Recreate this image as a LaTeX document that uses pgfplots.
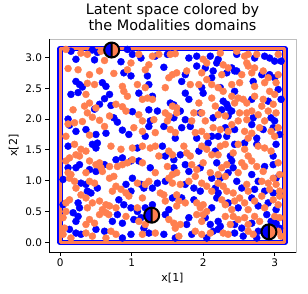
\documentclass[border=0pt]{standalone}
\usepackage{pgfplots}
\pgfplotsset{compat=1.18}
\usepackage{fontspec}
\setmainfont{DejaVu Sans}
\definecolor{coral}{RGB}{255,127,80}
\definecolor{mblue}{RGB}{0,0,255}
\pgfdeclareplotmark{halfcirc}{%
  \pgfpathmoveto{\pgfpoint{0pt}{\pgfplotmarksize}}%
  \pgfpatharc{90}{270}{\pgfplotmarksize}%
  \pgfpathclose
  \pgfsetfillcolor{mblue}\pgfusepath{fill}%
  \pgfpathmoveto{\pgfpoint{0pt}{-\pgfplotmarksize}}%
  \pgfpatharc{-90}{90}{\pgfplotmarksize}%
  \pgfpathclose
  \pgfsetfillcolor{coral}\pgfusepath{fill}%
  \pgfpathcircle{\pgfpointorigin}{\pgfplotmarksize}%
  \pgfpathmoveto{\pgfpoint{0pt}{-\pgfplotmarksize}}%
  \pgfpathlineto{\pgfpoint{0pt}{\pgfplotmarksize}}%
  \pgfsetstrokecolor{black}\pgfusepath{stroke}%
}
\begin{document}
\begin{tikzpicture}
\begin{axis}[
  name=ax,
  scale only axis, width=247bp, height=213bp,
  xmin=-0.157, xmax=3.299, ymin=-0.157, ymax=3.299,
  xtick={0,1,2,3}, ytick={0,0.5,1,1.5,2,2.5,3},
  yticklabel style={/pgf/number format/.cd, fixed, fixed zerofill, precision=1},
  /pgf/number format/assume math mode=true,
  tick label style={font=\fontsize{10.5}{12}\selectfont, black},
  tick pos=left, tick align=outside,
  major tick length=3.5bp,
  tick style={black, line width=0.8bp},
  xlabel={x[1]}, ylabel={x[2]},
  label style={font=\fontsize{11}{13}\selectfont},
  xlabel style={yshift=1bp},
  title={Latent space colored by\\the Modalities domains},
  title style={font=\fontsize{14.5}{16.5}\selectfont, align=center, at={(0.5,1)}, anchor=south, yshift=0bp, inner sep=2bp},
  axis line style={draw=black!25, line width=0.8bp},
]
\addplot[only marks, mark=*, mark size=3.5bp, mblue, mark options={draw=mblue, fill=mblue}] coordinates {
(0.15,3.10) (0.45,3.12) (0.52,3.08) (0.94,3.13) (1.01,3.05) (0.22,2.97) (0.48,2.96) (0.85,2.93) (0.89,2.75) (0.99,2.70) (0.27,2.56) (0.31,2.52) (0.59,2.59) (0.64,2.53) (0.22,2.61) (0.15,2.40) (0.25,2.43) (0.69,2.40) (0.62,2.33) (0.71,2.22) (0.48,2.16) (0.55,2.24) (1.01,2.12) (0.11,2.00) (0.13,1.90) (0.80,1.95) (0.75,2.02) (0.22,1.80) (0.36,1.83) (0.50,1.75) (0.64,1.77) (0.87,1.82) (0.96,1.75)
(1.13,2.99) (1.33,3.02) (1.50,3.05) (1.80,2.99) (1.91,3.02) (2.10,3.02) (1.45,2.84) (1.91,2.86) (2.03,2.83) (2.14,2.78) (1.22,2.70) (1.75,2.72) (2.12,2.67) (1.70,2.61) (1.24,2.56) (1.75,2.42) (1.98,2.51) (2.00,2.42) (1.10,2.42) (1.29,2.37) (1.54,2.26) (1.59,2.23) (1.80,2.32) (1.24,2.15) (1.96,2.10) (1.68,2.13) (1.36,2.13) (1.26,1.97) (1.75,1.99) (1.59,2.02) (2.14,2.02) (1.24,1.88) (1.45,1.88) (1.70,1.86) (1.82,1.88) (1.19,1.72) (1.61,1.69) (1.91,1.69) (2.12,1.72)
(2.21,2.97) (2.47,3.05) (2.72,2.99) (2.86,3.02) (2.93,2.99) (3.00,2.94) (3.09,2.94) (2.40,2.83) (2.44,2.78) (2.19,2.91) (2.33,2.75) (2.47,2.78) (2.82,2.72) (2.93,2.72) (3.00,2.67) (2.70,2.61) (3.05,2.48) (2.24,2.51) (2.44,2.45) (2.28,2.29) (2.33,2.24) (2.68,2.32) (2.91,2.29) (3.09,2.32) (2.35,2.18) (2.26,2.15) (2.40,2.13) (2.35,2.05) (2.70,2.02) (2.95,2.02) (3.00,1.97) (2.68,1.91) (2.31,1.86) (2.44,1.83) (2.84,1.83) (2.98,1.86) (3.07,1.75) (2.21,1.72) (2.33,1.72) (2.75,1.69)
(0.45,1.59) (0.50,1.53) (0.52,1.61) (0.11,1.56) (0.27,1.26) (0.22,1.21) (0.41,1.18) (0.50,1.15) (0.62,1.26) (0.78,1.34) (0.87,1.37) (0.99,1.32) (0.11,1.21) (0.29,0.96) (0.36,0.94) (0.38,0.83) (0.43,0.80) (0.52,0.88) (0.92,0.94) (0.99,0.83) (1.01,1.04) (0.04,1.02) (0.25,0.64) (0.04,0.61) (0.27,0.56) (0.82,0.69) (0.89,0.61) (0.99,0.56) (0.18,0.48) (0.25,0.42) (0.22,0.34) (0.80,0.45) (0.87,0.31) (0.73,0.34) (1.03,0.37) (0.13,0.21) (0.22,0.15) (0.29,0.13) (0.50,0.21) (0.62,0.18) (0.99,0.13) (0.87,0.07)
(1.08,1.53) (1.43,1.56) (1.47,1.40) (1.59,1.34) (1.68,1.42) (1.94,1.48) (2.07,1.61) (1.10,1.32) (1.26,1.21) (1.59,1.21) (1.61,1.13) (1.75,1.26) (1.80,1.15) (1.96,1.21) (2.12,1.04) (1.13,0.94) (1.17,0.88) (1.36,0.96) (1.47,0.99) (1.75,0.94) (1.87,0.88) (1.96,0.83) (1.29,0.88) (1.19,0.56) (1.29,0.61) (1.57,0.72) (1.70,0.72) (1.87,0.69) (1.52,0.53) (2.12,0.56) (1.08,0.50) (1.13,0.40) (1.47,0.45) (1.80,0.40) (2.03,0.40) (2.10,0.29) (1.17,0.23) (1.77,0.29) (1.24,0.15) (1.45,0.13) (1.61,0.07) (1.84,0.13) (2.05,0.07) (2.14,0.18)
(2.44,1.59) (2.58,1.61) (2.75,1.59) (2.98,1.40) (3.02,1.59) (2.17,1.48) (2.38,1.40) (2.19,1.29) (2.40,1.32) (2.42,1.21) (2.24,1.04) (2.35,1.13) (2.86,1.23) (2.98,1.26) (3.02,1.04) (2.68,1.10) (2.77,0.99) (2.17,0.88) (2.21,0.80) (2.47,0.99) (2.54,0.88) (2.72,0.86) (2.86,0.83) (2.98,0.80) (2.19,0.72) (2.35,0.64) (2.49,0.56) (2.68,0.72) (2.77,0.59) (2.91,0.64) (3.02,0.53) (2.21,0.34) (2.24,0.26) (2.44,0.29) (2.54,0.23) (2.68,0.31) (2.89,0.45) (2.95,0.34) (3.02,0.31) (2.21,0.21) (2.44,0.15) (2.77,0.18) (2.56,0.10) (3.07,0.23) (2.75,0.07)
};
\addplot[only marks, mark=*, mark size=3.5bp, coral, mark options={draw=coral, fill=coral}] coordinates {
(0.08,3.13) (0.29,3.07) (0.38,3.05) (0.57,3.10) (0.62,2.95) (0.99,2.91) (0.11,2.82) (0.25,2.80) (0.41,2.72) (0.55,2.78) (0.75,2.74) (0.94,2.80) (0.38,2.58) (0.48,2.56) (0.87,2.53) (0.36,2.40) (0.89,2.45) (0.94,2.37) (0.41,2.26) (0.34,2.21) (0.50,2.18) (0.78,2.24) (0.87,2.20) (0.92,2.13) (0.18,2.15) (0.38,2.10) (0.45,2.03) (0.55,1.98) (0.69,2.05) (0.11,1.92) (0.20,1.94) (0.31,1.96) (0.62,1.88) (0.08,1.72) (0.41,1.74) (1.03,1.86)
(1.10,3.05) (1.29,3.02) (1.38,3.05) (1.54,3.05) (1.61,3.06) (1.24,2.88) (1.19,2.80) (1.57,2.72) (1.63,2.75) (1.77,2.78) (2.00,2.97) (2.05,2.91) (1.98,2.75) (1.52,2.67) (1.82,2.56) (1.94,2.56) (2.05,2.64) (2.12,2.56) (1.47,2.51) (1.19,2.51) (1.08,2.56) (1.22,2.34) (1.29,2.32) (1.15,2.32) (1.57,2.21) (1.63,2.18) (1.94,2.26) (2.12,2.34) (2.17,2.21) (1.10,2.07) (1.47,2.10) (1.52,2.05) (1.63,2.10) (1.87,2.10) (1.98,2.10) (1.31,1.99) (1.15,1.97) (1.50,1.97) (1.84,1.97) (2.03,1.97) (1.15,1.80) (1.33,1.78) (1.54,1.83) (1.61,1.78) (1.89,1.78) (1.98,1.80) (2.05,1.72) (2.14,1.86)
(2.24,3.07) (2.47,3.10) (2.58,3.02) (2.63,3.05) (2.75,3.05) (3.05,3.05) (2.61,2.91) (2.63,2.86) (2.72,2.83) (2.28,2.88) (2.35,2.83) (2.26,2.72) (2.54,2.72) (2.68,2.75) (2.84,2.78) (3.05,2.72) (2.91,2.67) (2.40,2.56) (2.51,2.59) (2.72,2.53) (2.86,2.59) (3.02,2.59) (2.21,2.51) (2.28,2.45) (2.93,2.45) (2.40,2.37) (2.49,2.34) (2.56,2.32) (2.44,2.26) (2.61,2.26) (2.72,2.37) (3.00,2.40) (2.84,2.32) (2.82,2.21) (2.98,2.24) (2.21,2.07) (2.31,2.05) (2.51,2.10) (2.61,2.10) (2.68,2.13) (2.77,2.07) (2.91,2.13) (3.02,2.10) (2.49,1.97) (2.86,1.97) (2.40,1.91) (2.61,1.99) (2.24,1.83) (2.35,1.80) (2.58,1.80) (2.68,1.77) (2.79,1.86) (2.95,1.80) (3.00,1.72) (3.05,1.86) (2.63,1.69)
(0.20,1.59) (0.29,1.51) (0.36,1.48) (0.22,1.42) (0.27,1.40) (0.71,1.56) (0.85,1.51) (1.01,1.53) (0.13,1.37) (0.08,1.32) (0.41,1.32) (0.50,1.26) (0.55,1.29) (0.57,1.21) (0.59,1.15) (0.69,1.23) (0.80,1.23) (0.87,1.26) (0.94,1.29) (1.01,1.34) (0.11,1.13) (0.15,1.10) (0.36,1.13) (0.13,1.04) (0.20,0.99) (0.41,0.99) (0.48,0.96) (0.69,1.04) (0.75,1.07) (0.78,0.91) (0.85,0.86) (0.73,0.83) (0.92,0.80) (0.22,0.88) (0.29,0.77) (0.36,0.72) (0.45,0.64) (0.55,0.67) (0.64,0.61) (0.69,0.59) (0.13,0.69) (0.08,0.64) (0.38,0.56) (0.96,0.75) (0.78,0.56) (0.59,0.53) (0.64,0.48) (0.68,0.45) (0.55,0.45) (0.41,0.37) (0.08,0.50) (0.04,0.40) (0.36,0.29) (0.48,0.31) (0.92,0.42) (0.06,0.23) (0.04,0.13) (0.36,0.15) (0.45,0.10) (0.71,0.18) (0.78,0.13) (0.15,0.07) (0.64,0.07)
(1.15,1.56) (1.26,1.53) (1.33,1.56) (1.38,1.40) (1.52,1.48) (1.57,1.42) (1.73,1.56) (1.77,1.45) (1.82,1.40) (1.98,1.56) (2.05,1.51) (2.12,1.42) (1.15,1.29) (1.33,1.13) (1.50,1.23) (1.57,1.10) (1.63,1.13) (1.84,1.26) (1.91,1.18) (2.00,1.29) (2.10,1.13) (1.89,1.07) (1.08,0.96) (1.19,0.94) (1.24,0.99) (1.52,1.04) (1.57,0.96) (1.68,0.94) (1.80,0.99) (1.40,0.80) (1.45,0.77) (1.63,0.77) (1.98,0.96) (2.05,0.91) (2.12,0.83) (1.15,0.72) (1.08,0.56) (1.47,0.67) (1.66,0.67) (1.63,0.59) (1.75,0.64) (1.91,0.64) (2.00,0.61) (1.96,0.56) (2.05,0.50) (1.52,0.37) (1.59,0.31) (1.68,0.29) (1.61,0.23) (1.91,0.45) (2.00,0.45) (1.98,0.34) (1.10,0.34) (1.19,0.29) (1.66,0.10) (1.89,0.18) (1.98,0.13) (2.10,0.15) (1.15,0.13) (1.33,0.15)
(2.24,1.56) (2.31,1.59) (2.49,1.59) (2.58,1.51) (2.77,1.56) (2.86,1.53) (2.95,1.48) (2.21,1.42) (2.42,1.45) (2.63,1.40) (2.26,1.21) (2.33,1.26) (2.54,1.29) (2.58,1.23) (2.68,1.32) (2.75,1.23) (2.84,1.15) (3.05,1.29) (2.21,1.10) (2.31,1.07) (2.49,1.13) (2.98,1.04) (3.07,1.10) (2.21,0.96) (2.28,0.91) (2.33,0.83) (2.42,0.80) (2.61,0.94) (2.63,0.83) (2.82,0.99) (2.91,0.96) (3.02,0.94) (2.93,0.86) (3.07,0.83) (2.26,0.69) (2.31,0.61) (2.44,0.67) (2.51,0.72) (2.58,0.64) (2.72,0.67) (2.82,0.75) (2.98,0.69) (3.05,0.61) (3.07,0.75) (2.40,0.53) (2.63,0.53) (2.86,0.56) (2.31,0.42) (2.42,0.42) (2.49,0.37) (2.58,0.40) (2.72,0.42) (2.79,0.34) (3.00,0.42) (3.07,0.40) (2.63,0.29) (2.38,0.29) (2.28,0.15) (2.35,0.13) (2.63,0.18) (2.70,0.13) (3.05,0.18) (3.09,0.10)
};
\addplot[mblue, line width=5.5bp, line join=round] coordinates {(0,0) (3.1416,0) (3.1416,3.1416) (0,3.1416) (0,0)} -- cycle;
\addplot[coral, line width=2.8bp, line join=round] coordinates {(0,0) (3.1416,0) (3.1416,3.1416) (0,3.1416) (0,0)} -- cycle;
\addplot[only marks, mark=halfcirc, mark size=7.5bp, mark options={line width=2bp}] coordinates {(0.72,3.12) (1.28,0.44) (2.92,0.17)};
\draw[black, line width=0.8bp] (rel axis cs:0,1) -- (rel axis cs:0,0) -- (rel axis cs:1,0);
\end{axis}
\path ([xshift=-49bp,yshift=-42bp]ax.south west) rectangle ([xshift=12bp,yshift=39bp]ax.north east);
\end{tikzpicture}
\end{document}
